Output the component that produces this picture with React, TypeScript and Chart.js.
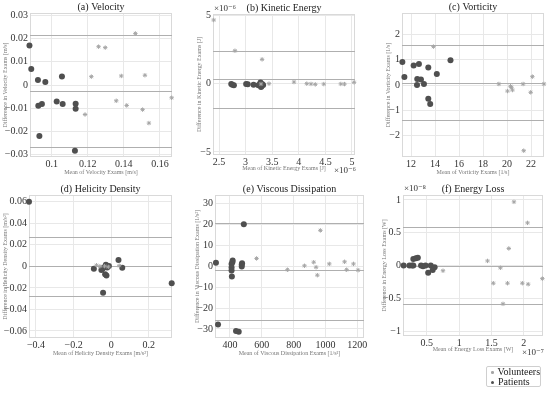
import React, { useEffect, useRef } from "react";
import { Chart, registerables } from "chart.js";
Chart.register(...registerables);

const FONT = "'Liberation Serif', 'DejaVu Serif', serif";

// (a) Velocity
const velPatX = [0.0877, 0.0887, 0.0924, 0.0965, 0.1057, 0.0926, 0.0946, 0.0932, 0.1028, 0.1061, 0.1133, 0.1133, 0.1129];
const velPatY = [0.0170, 0.0069, 0.0022, 0.0013, 0.0037, -0.0089, -0.0082, -0.0220, -0.0071, -0.0082, -0.0081, -0.0102, -0.0283];
const velVolX = [0.1260, 0.1297, 0.1464, 0.1220, 0.1386, 0.1517, 0.1185, 0.1358, 0.1416, 0.1504, 0.1539, 0.1665];
const velVolY = [0.0165, 0.0161, 0.0222, 0.0036, 0.0039, 0.0042, -0.0127, -0.0068, -0.0088, -0.0106, -0.0164, -0.0055];
const velLines = [0.0216, -0.0024, -0.0265];
const velXTicks = [0.1, 0.12, 0.14, 0.16];
const velXLabels = ["0.1", "0.12", "0.14", "0.16"];
const velYTicks = [0.03, 0.02, 0.01, 0, -0.01, -0.02, -0.03];
const velYLabels = ["0.03", "0.02", "0.01", "0", "−0.01", "−0.02", "−0.03"];

// (b) Kinetic Energy (x and y in units of 1e-6)
const kePatX = [2.73, 2.75, 2.78, 3.01, 3.04, 3.15, 3.24, 3.27, 3.29, 3.31, 3.33, 3.28, 3.30];
const kePatY = [-0.02, -0.08, -0.12, -0.03, -0.05, -0.08, -0.12, -0.05, -0.25, -0.02, -0.10, 0.08, -0.18];
const keVolX = [2.40, 2.80, 3.31, 3.29, 3.44, 3.91, 4.15, 4.23, 4.31, 4.47, 4.79, 4.86, 5.04];
const keVolY = [4.66, 2.41, 1.78, -0.02, 0.00, 0.12, 0.00, -0.02, -0.05, -0.03, -0.02, -0.03, 0.10];
const keLines = [2.41, 0.32, -1.80];
const keXTicks = [2.5, 3, 3.5, 4, 4.5, 5];
const keXLabels = ["2.5", "3", "3.5", "4", "4.5", "5"];
const keYTicks = [5, 0, -5];
const keYLabels = ["5", "0", "−5"];

// (c) Vorticity
const vorPatX = [11.28, 11.45, 12.22, 12.66, 12.52, 12.83, 12.50, 13.08, 13.44, 14.15, 15.29, 13.44, 13.60];
const vorPatY = [0.91, 0.32, 0.77, 0.83, 0.24, 0.22, 0.00, 0.04, 0.69, 0.44, 0.98, -0.54, -0.75];
const vorVolX = [13.87, 19.32, 20.04, 20.29, 20.37, 20.45, 21.34, 22.11, 21.97, 21.39, 23.08];
const vorVolY = [1.52, 0.04, -0.24, -0.05, -0.09, -0.20, 0.04, 0.33, -0.29, -2.60, 0.04];
const vorLines = [1.60, 0.09, -1.39];
const vorXTicks = [12, 14, 16, 18, 20, 22];
const vorXLabels = ["12", "14", "16", "18", "20", "22"];
const vorYTicks = [2, 1, 0, -1, -2];
const vorYLabels = ["2", "1", "0", "−1", "−2"];

// (d) Helicity Density
const helPatX = [-0.437, 0.322, -0.043, -0.092, -0.046, -0.039, -0.028, -0.021, -0.032, -0.025, -0.012, 0.039, 0.059, -0.052];
const helPatY = [0.060, -0.0158, -0.0245, -0.0022, -0.0022, -0.0010, 0.0015, -0.0010, -0.0074, -0.0084, 0.0003, 0.0059, -0.0012, -0.0034];
const helVolX = [-0.078, -0.060, 0.043, -0.035, -0.015];
const helVolY = [0.0010, 0.0000, 0.0006, 0.0002, -0.0005];
const helLines = [0.0269, 0.0, -0.0272];
const helXTicks = [-0.4, -0.2, 0, 0.2];
const helXLabels = ["−0.4", "−0.2", "0", "0.2"];
const helYTicks = [0.06, 0.04, 0.02, 0, -0.02, -0.04, -0.06];
const helYLabels = ["0.06", "0.04", "0.02", "0", "−0.02", "−0.04", "−0.06"];

// (e) Viscous Dissipation
const visPatX = [312, 325, 415, 417, 410, 410, 410, 412, 474, 474, 476, 487, 438, 455];
const visPatY = [1.6, -27.8, 1.9, 2.7, 1.1, -0.6, -2.1, -4.9, 0.8, -0.2, 1.4, 20.0, -30.9, -31.3];
const visVolX = [567, 761, 868, 926, 941, 949, 968, 1024, 1120, 1133, 1176, 1205];
const visVolY = [3.7, -1.7, 0.2, 1.9, -0.5, -4.3, 17.1, 1.1, 2.1, -1.7, 1.1, -1.9];
const visLines = [20.8, -2.06, -25.6];
const visXTicks = [400, 600, 800, 1000, 1200];
const visXLabels = ["400", "600", "800", "1000", "1200"];
const visYTicks = [30, 20, 10, 0, -10, -20, -30];
const visYLabels = ["30", "20", "10", "0", "−10", "−20", "−30"];

// (f) Energy Loss (x in 1e-7, y in 1e-8)
const elPatX = [0.14, 0.23, 0.27, 0.29, 0.29, 0.33, 0.36, 0.41, 0.44, 0.48, 0.52, 0.56, 0.59, 0.62];
const elPatY = [0, 0, 0, 0, 0.10, 0.11, 0.12, 0, -0.01, 0, -0.11, 0, -0.07, -0.025];
const elVolX = [0.75, 1.44, 1.53, 1.64, 1.68, 1.75, 1.77, 1.85, 1.98, 2.06, 2.07, 2.29];
const elVolY = [-0.08, 0.07, -0.27, -0.035, -0.585, -0.27, 0.26, 0.97, -0.27, 0.65, -0.285, -0.2];
const elLines = [0.585, 0, -0.59];
const elXTicks = [0.5, 1, 1.5, 2];
const elXLabels = ["0.5", "1", "1.5", "2"];
const elYTicks = [1, 0.5, 0, -0.5, -1];
const elYLabels = ["1", "0.5", "0", "−0.5", "−1"];

type Spec = {
  title: string; xTitle: string; yTitle: string;
  L: number; T: number; R: number; B: number; yw: number; xh: number; top: number;
  xMin: number; xMax: number; yMin: number; yMax: number;
  xTicks: number[]; xLabels: string[]; yTicks: number[]; yLabels: string[];
  patX: number[]; patY: number[]; volX: number[]; volY: number[]; lines: number[];
};

const PR = 12;

const specs: Spec[] = [
  { title: "(a) Velocity", xTitle: "Mean of Velocity Exams [m/s]", yTitle: "Difference in Velocity Exams [m/s]",
    L: 30, T: 13, R: 172, B: 157, yw: 28, xh: 19, top: 0,
    xMin: 0.088, xMax: 0.1667, yMin: -0.031, yMax: 0.031,
    xTicks: velXTicks, xLabels: velXLabels, yTicks: velYTicks, yLabels: velYLabels,
    patX: velPatX, patY: velPatY, volX: velVolX, volY: velVolY, lines: velLines },
  { title: "(b) Kinetic Energy", xTitle: "Mean of Kinetic Energy Exams [J]", yTitle: "Difference in Kinetic Energy Exams [J]",
    L: 213, T: 14, R: 355, B: 155, yw: 17, xh: 17, top: 0,
    xMin: 2.387, xMax: 5.057, yMin: -5.22, yMax: 5.1,
    xTicks: keXTicks, xLabels: keXLabels, yTicks: keYTicks, yLabels: keYLabels,
    patX: kePatX, patY: kePatY, volX: keVolX, volY: keVolY, lines: keLines },
  { title: "(c) Vorticity", xTitle: "Mean of Vorticity Exams [1/s]", yTitle: "Difference in Vorticity Exams [1/s]",
    L: 402, T: 13, R: 544, B: 157, yw: 17, xh: 19, top: 0,
    xMin: 11.25, xMax: 23.08, yMin: -2.85, yMax: 2.85,
    xTicks: vorXTicks, xLabels: vorXLabels, yTicks: vorYTicks, yLabels: vorYLabels,
    patX: vorPatX, patY: vorPatY, volX: vorVolX, volY: vorVolY, lines: vorLines },
  { title: "(d) Helicity Density", xTitle: "Mean of Helicity Density Exams [m/s²]", yTitle: "Difference in Helicity Density Exams [m/s²]",
    L: 29, T: 195, R: 172, B: 338, yw: 27, xh: 19, top: 180,
    xMin: -0.437, xMax: 0.3236, yMin: -0.0665, yMax: 0.0662,
    xTicks: helXTicks, xLabels: helXLabels, yTicks: helYTicks, yLabels: helYLabels,
    patX: helPatX, patY: helPatY, volX: helVolX, volY: helVolY, lines: helLines },
  { title: "(e) Viscous Dissipation", xTitle: "Mean of Viscous Dissipation Exams [1/s²]", yTitle: "Difference in Viscous Dissipation Exams [1/s²]",
    L: 215, T: 195, R: 364, B: 338, yw: 21, xh: 19, top: 180,
    xMin: 306, xMax: 1242, yMin: -34.3, yMax: 34,
    xTicks: visXTicks, xLabels: visXLabels, yTicks: visYTicks, yLabels: visYLabels,
    patX: visPatX, patY: visPatY, volX: visVolX, volY: visVolY, lines: visLines },
  { title: "(f) Energy Loss", xTitle: "Mean of Energy Loss Exams [W]", yTitle: "Difference in Energy Loss Exams [W]",
    L: 403, T: 195, R: 543, B: 336, yw: 22, xh: 17, top: 180,
    xMin: 0.13, xMax: 2.3, yMin: -1.075, yMax: 1.075,
    xTicks: elXTicks, xLabels: elXLabels, yTicks: elYTicks, yLabels: elYLabels,
    patX: elPatX, patY: elPatY, volX: elVolX, volY: elVolY, lines: elLines },
];

const decor = {
  id: "decor",
  beforeDatasetsDraw(chart: any, _a: any, opts: any) {
    const { ctx, chartArea, scales } = chart;
    ctx.save();
    ctx.strokeStyle = "#d9d9d9";
    ctx.lineWidth = 1;
    ctx.strokeRect(chartArea.left + 0.5, chartArea.top + 0.5, chartArea.right - chartArea.left - 1, chartArea.bottom - chartArea.top - 1);
    ctx.strokeStyle = "#afafaf";
    (opts.lines || []).forEach((v: number) => {
      const y = Math.round(scales.y.getPixelForValue(v)) + 0.5;
      ctx.beginPath();
      ctx.moveTo(chartArea.left, y);
      ctx.lineTo(chartArea.right, y);
      ctx.stroke();
    });
    ctx.restore();
  },
  afterDraw(chart: any, _a: any, opts: any) {
    const { ctx, chartArea } = chart;
    ctx.save();
    ctx.font = `10px ${FONT}`;
    ctx.fillStyle = "#222";
    ctx.textAlign = "center";
    ctx.textBaseline = "middle";
    ctx.fillText(opts.title, (chartArea.left + chartArea.right) / 2, chartArea.top - 6);
    ctx.restore();
  },
};

function Panel({ s }: { s: Spec }) {
  const ref = useRef<HTMLCanvasElement>(null);
  const left = s.L - s.yw;
  const width = s.R - left + PR;
  const height = s.B + s.xh - s.top;
  useEffect(() => {
    const tickFont = { family: FONT, size: 10 };
    const titleFont = { family: FONT, size: 6 };
    const chart = new Chart(ref.current as HTMLCanvasElement, {
      type: "scatter",
      data: {
        datasets: [
          {
            label: "Volunteers",
            data: s.volX.map((x, i) => ({ x, y: s.volY[i] })),
            pointStyle: "star",
            pointRadius: 2.2,
            borderColor: "#a6a6a6",
            backgroundColor: "#a6a6a6",
            borderWidth: 1,
            clip: false,
          } as any,
          {
            label: "Patients",
            data: s.patX.map((x, i) => ({ x, y: s.patY[i] })),
            pointStyle: "circle",
            pointRadius: 3,
            backgroundColor: "#4f4f4f",
            borderWidth: 0,
            clip: false,
          } as any,
        ],
      },
      options: {
        responsive: false,
        animation: false,
        events: [],
        layout: { padding: { top: s.T - s.top, right: PR, left: 0, bottom: 0 } },
        plugins: {
          legend: { display: false },
          tooltip: { enabled: false },
          decor: { lines: s.lines, title: s.title },
        } as any,
        scales: {
          x: {
            type: "linear",
            min: s.xMin,
            max: s.xMax,
            afterBuildTicks: (sc: any) => { sc.ticks = s.xTicks.map((v) => ({ value: v })); },
            afterFit: (sc: any) => { sc.height = s.xh; sc.paddingLeft = 0; sc.paddingRight = 0; },
            ticks: {
              callback: (v: any) => s.xLabels[s.xTicks.indexOf(Number(v))],
              font: tickFont, color: "#333", padding: 1, maxRotation: 0, autoSkip: false,
            },
            grid: { color: "#e8e8e8", drawTicks: false },
            border: { display: false },
            title: { display: true, text: s.xTitle, font: titleFont, color: "#777", padding: 0 },
          },
          y: {
            type: "linear",
            min: s.yMin,
            max: s.yMax,
            afterBuildTicks: (sc: any) => { sc.ticks = s.yTicks.map((v) => ({ value: v })); },
            afterFit: (sc: any) => { sc.width = s.yw; sc.paddingTop = 0; sc.paddingBottom = 0; },
            ticks: {
              callback: (v: any) => s.yLabels[s.yTicks.indexOf(Number(v))],
              font: tickFont, color: "#333", padding: 2, autoSkip: false,
            },
            grid: { color: "#e8e8e8", drawTicks: false },
            border: { display: false },
            title: { display: true, text: s.yTitle, font: titleFont, color: "#777", padding: 0 },
          },
        },
      } as any,
      plugins: [decor as any],
    });
    return () => chart.destroy();
  }, []);
  return (
    <canvas
      ref={ref}
      width={width}
      height={height}
      style={{ position: "absolute", left, top: s.top, width, height }}
    />
  );
}

const expStyle: React.CSSProperties = {
  position: "absolute",
  fontFamily: FONT,
  fontSize: 9,
  color: "#333",
  lineHeight: "10px",
  whiteSpace: "nowrap",
};

export default function App() {
  return (
    <div style={{ position: "absolute", left: 0, top: 0, width: 550, height: 393, background: "#fff", overflow: "hidden" }}>
      {specs.map((s, i) => (
        <Panel key={i} s={s} />
      ))}
      <div style={{ ...expStyle, left: 214, top: 3 }}>×10⁻⁶</div>
      <div style={{ ...expStyle, left: 334, top: 165 }}>×10⁻⁶</div>
      <div style={{ ...expStyle, left: 404, top: 183 }}>×10⁻⁸</div>
      <div style={{ ...expStyle, left: 522, top: 347 }}>×10⁻⁷</div>
      <div
        style={{
          position: "absolute", left: 486, top: 366, width: 55, height: 21,
          border: "1px solid #cfcfcf", borderRadius: 2, boxSizing: "border-box",
          fontFamily: FONT, fontSize: 10, color: "#222",
        }}
      >
        <div style={{ position: "absolute", left: 4, top: 0, lineHeight: "10px", whiteSpace: "nowrap" }}>
          <span style={{ display: "inline-block", width: 2.5, height: 2.5, borderRadius: "50%", background: "#a6a6a6", marginRight: 4, verticalAlign: "middle" }} />
          Volunteers
        </div>
        <div style={{ position: "absolute", left: 4, top: 10, lineHeight: "10px", whiteSpace: "nowrap" }}>
          <span style={{ display: "inline-block", width: 3, height: 3, borderRadius: "50%", background: "#4f4f4f", marginRight: 4, verticalAlign: "middle" }} />
          Patients
        </div>
      </div>
    </div>
  );
}
